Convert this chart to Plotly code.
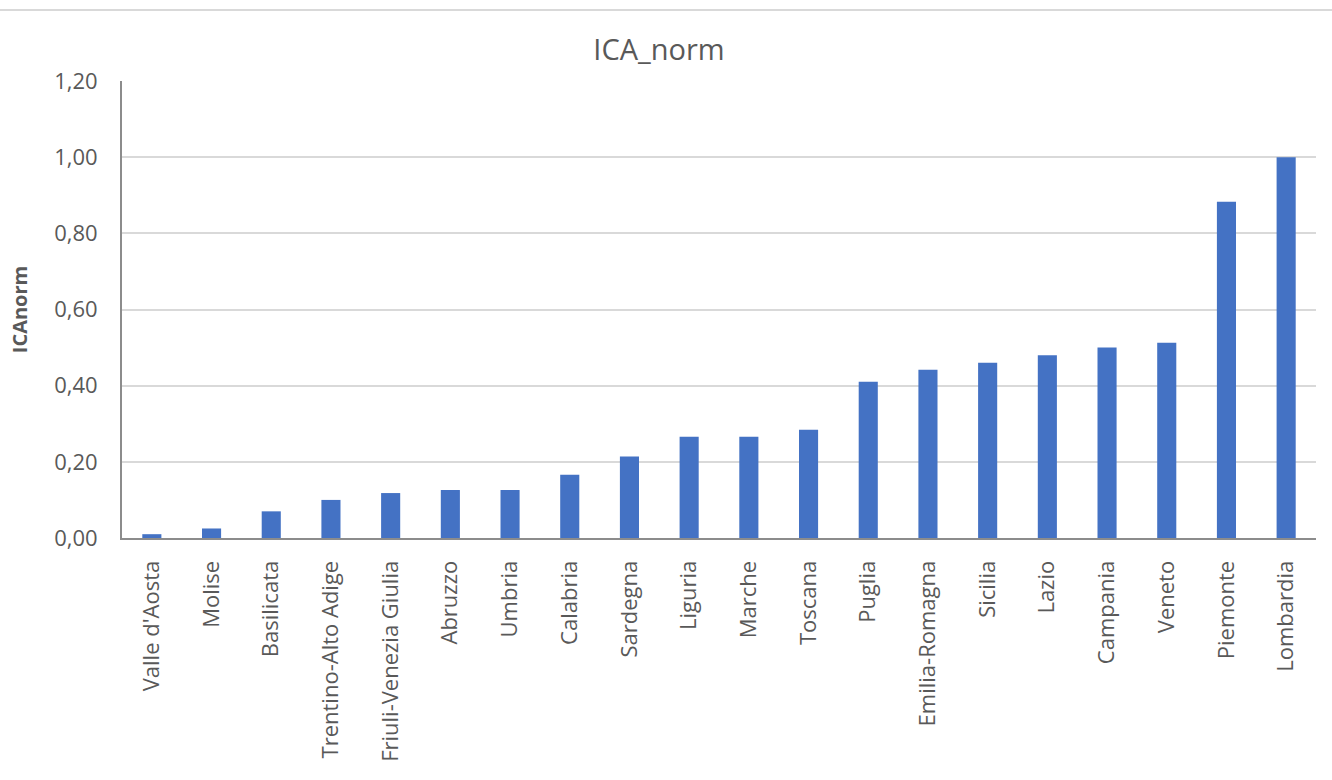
import plotly.graph_objects as go

# Regional ICA index, normalised to the maximum (Lombardia = 1)
regions = [
    "Valle d'Aosta", "Molise", "Basilicata", "Trentino-Alto Adige",
    "Friuli-Venezia Giulia", "Abruzzo", "Umbria", "Calabria", "Sardegna",
    "Liguria", "Marche", "Toscana", "Puglia", "Emilia-Romagna", "Sicilia",
    "Lazio", "Campania", "Veneto", "Piemonte", "Lombardia",
]
ica_norm = [
    0.01, 0.025, 0.07, 0.10, 0.118, 0.126, 0.126, 0.166, 0.214,
    0.266, 0.266, 0.284, 0.41, 0.442, 0.46, 0.48, 0.50, 0.513, 0.883, 1.00,
]
y_ticks = [0.0, 0.2, 0.4, 0.6, 0.8, 1.0, 1.2]
y_tick_text = ["0,00", "0,20", "0,40", "0,60", "0,80", "1,00", "1,20"]

W, H = 1332, 780
L, R, T, B = 122, 16, 81, 242
pw, ph = W - L - R, H - T - B

font_family = "Open Sans, Noto Sans, sans-serif"
text_col = "#595959"

fig = go.Figure(
    go.Bar(
        x=regions,
        y=ica_norm,
        marker=dict(color="#4472C4", line=dict(width=0)),
    )
)

fig.update_layout(
    width=W,
    height=H,
    margin=dict(l=L, r=R, t=T, b=B),
    paper_bgcolor="white",
    plot_bgcolor="white",
    bargap=0.68,
    showlegend=False,
    font=dict(family=font_family, color=text_col, size=16),
    title=dict(
        text="ICA_norm",
        x=659 / W,
        xref="container",
        xanchor="center",
        y=1 - 50 / H,
        yanchor="middle",
        font=dict(size=29, color=text_col, family=font_family),
    ),
    xaxis=dict(
        tickangle=-90,
        showline=True,
        linecolor="#8c8c8c",
        linewidth=2,
        ticks="",
        showgrid=False,
        ticklabelstandoff=12,
        tickfont=dict(size=22, color=text_col),
    ),
    yaxis=dict(
        range=[0, 1.2],
        tickvals=y_ticks,
        ticktext=y_tick_text,
        showline=True,
        linecolor="#8c8c8c",
        linewidth=2,
        showgrid=True,
        gridcolor="#d9d9d9",
        gridwidth=2,
        zeroline=False,
        ticks="",
        ticklabelstandoff=18,
        tickfont=dict(size=22, color=text_col),
        title=dict(
            text="<b>ICAnorm</b>",
            font=dict(size=20, color=text_col),
            standoff=21,
        ),
    ),
    shapes=[
        dict(
            type="line",
            xref="paper",
            yref="paper",
            x0=-L / pw,
            x1=(W - L) / pw,
            y0=(H - B - 10) / ph,
            y1=(H - B - 10) / ph,
            line=dict(color="#d9d9d9", width=2),
        )
    ],
)

fig.write_html("out.html")
